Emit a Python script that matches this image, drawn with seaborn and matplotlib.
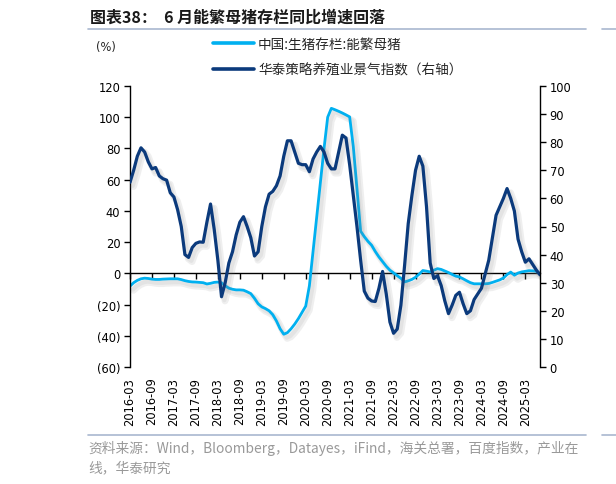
import numpy as np
import pandas as pd
import seaborn as sns
import matplotlib.pyplot as plt
from matplotlib import patheffects as pe
from matplotlib.lines import Line2D
from matplotlib.ticker import FuncFormatter, MultipleLocator

# monthly categories, 2016-03 onwards
months = pd.period_range('2016-03', periods=113, freq='M').strftime('%Y-%m').tolist()

# 中国:生猪存栏:能繁母猪 同比 (%), left axis
sow_yoy = [
    -8.2, -6.0, -4.5, -3.5, -3.1, -3.3, -3.7, -3.9, -3.9, -3.7,
    -3.6, -3.5, -3.5, -3.5, -4.0, -4.7, -5.2, -5.5, -5.6, -5.8,
    -6.0, -6.8, -6.4, -5.8, -5.6, -6.0, -8.0, -9.5, -10.2, -10.6,
    -10.6, -10.8, -11.8, -13.0, -16.0, -19.5, -21.5, -22.6, -24.0, -26.5,
    -30.5, -35.5, -39.0, -38.0, -35.5, -32.5, -29.0, -25.0, -21.0, -8.0,
    14.0, 36.0, 58.0, 80.0, 100.0, 105.7, 104.8, 103.8, 102.7, 101.5,
    100.2, 81.0, 54.0, 27.0, 23.5, 20.5, 18.0, 14.0, 10.5, 7.5,
    4.5, 2.0, 0.3, -1.5, -3.2, -5.5, -4.8, -3.9, -2.5, -0.5,
    1.8, 1.4, 0.9, 2.0, 3.0, 2.5, 1.5, 0.5, -0.7, -1.8,
    -2.3, -3.5, -4.8, -6.0, -6.7, -6.7, -6.7, -6.7, -6.5, -5.8,
    -5.0, -4.2, -3.0, -0.8, 0.8, -1.2, 0.2, 0.9, 1.3, 1.7,
    1.6, 1.3, -0.3,
]

# 华泰策略养殖业景气指数, right axis
prosperity = [
    65.7, 70.0, 75.0, 78.0, 76.5, 73.0, 70.5, 71.0, 68.0, 67.0,
    66.5, 62.0, 60.5, 56.0, 50.0, 40.0, 39.0, 42.5, 44.0, 44.5,
    44.4, 51.5, 58.0, 49.0, 38.0, 25.0, 30.0, 37.0, 41.0, 47.0,
    51.5, 53.5, 50.0, 46.0, 39.5, 41.0, 50.0, 57.0, 61.5, 62.5,
    64.5, 68.0, 75.0, 80.5, 80.5, 76.5, 72.5, 72.0, 72.0, 69.5,
    74.0, 76.5, 78.5, 76.5, 72.5, 70.5, 70.5, 76.5, 82.5, 81.5,
    72.0, 61.0, 50.0, 38.0, 27.0, 24.5, 23.5, 23.3, 28.0, 34.0,
    26.0, 16.0, 12.0, 13.5, 22.0, 36.0, 51.0, 61.0, 70.0, 75.0,
    71.5, 57.0, 37.0, 31.5, 32.5, 29.0, 23.5, 19.0, 22.0, 25.5,
    26.6, 22.5, 19.0, 20.0, 24.0, 26.0, 28.0, 33.0, 38.0, 46.0,
    54.0, 57.0, 60.0, 63.5, 60.0, 55.5, 45.5, 41.0, 37.3, 38.5,
    36.5, 34.5, 32.8,
]

series_names = ['中国:生猪存栏:能繁母猪', '华泰策略养殖业景气指数（右轴）']

LIGHT = '#00b0f0'
DARK = '#0b3a7c'
CJK = ['Noto Sans CJK SC', 'DejaVu Sans']

sns.set_theme(style='ticks')
plt.rcParams['font.family'] = ['DejaVu Sans', 'Noto Sans CJK SC']

df = pd.DataFrame({'idx': np.arange(len(months)), 'sow': sow_yoy, 'idxval': prosperity})

W, H = 616, 485
fig = plt.figure(figsize=(W / 100, H / 100), dpi=100)
ax = fig.add_axes([130 / W, 1 - 368 / H, 410 / W, 281 / H])

# soft drop shadow like the Excel original
shadow = [pe.SimpleLineShadow(offset=(2.5, -3), shadow_color='0.5', alpha=0.12, linewidth=5),
          pe.SimpleLineShadow(offset=(2, -2.5), shadow_color='0.5', alpha=0.1, linewidth=3),
          pe.Normal()]

sns.lineplot(data=df, x='idx', y='sow', ax=ax, color=LIGHT, linewidth=2.0, legend=False)
ax.lines[0].set_path_effects(shadow)
ax2 = ax.twinx()
sns.lineplot(data=df, x='idx', y='idxval', ax=ax2, color=DARK, linewidth=2.3, legend=False)
ax2.lines[0].set_path_effects(shadow)

ax.set_xlim(0, len(months) - 1)
ax.set_ylim(-60, 120)
ax2.set_ylim(0, 100)
ax.yaxis.set_major_locator(MultipleLocator(20))
ax2.yaxis.set_major_locator(MultipleLocator(10))
ax.yaxis.set_major_formatter(FuncFormatter(lambda v, p: f'({abs(int(v))})' if v < 0 else f'{int(v)}'))
ax.set_xlabel('')
ax.set_ylabel('')
ax2.set_ylabel('')

tick_pos = list(range(0, len(months), 6))
ax.set_xticks(tick_pos)
ax.set_xticklabels([months[i] for i in tick_pos], rotation=90)
ax.tick_params(axis='x', length=0, pad=7, labelsize=8.3, colors='black')
ax.tick_params(axis='y', direction='out', length=4, width=1, pad=3, labelsize=8.3, colors='black')
ax2.tick_params(axis='y', direction='out', length=4, width=1, pad=3, labelsize=8.3, colors='black')

for s in ['top', 'right', 'bottom']:
    ax.spines[s].set_visible(False)
for s in ['top', 'left', 'bottom']:
    ax2.spines[s].set_visible(False)
ax.spines['left'].set_color('black')
ax2.spines['right'].set_color('black')
ax.spines['left'].set_linewidth(1)
ax2.spines['right'].set_linewidth(1)

# category axis sits on the zero line of the left axis
zero_axis = ax.secondary_xaxis(60 / 180)
zero_axis.set_xticks(tick_pos)
zero_axis.tick_params(axis='x', direction='out', length=4, width=1, labelbottom=False, color='black')
zero_axis.spines['bottom'].set_color('black')
zero_axis.spines['bottom'].set_linewidth(1)

# legend
handles = [Line2D([], [], color=LIGHT, lw=2.6), Line2D([], [], color=DARK, lw=2.6)]
fig.legend(handles, series_names, loc='upper left', bbox_to_anchor=(213 / W, 1 - 38 / H),
           frameon=False, handlelength=3.0, handletextpad=0.3, labelspacing=0.85,
           borderpad=0, borderaxespad=0, prop={'family': CJK, 'size': 9.8})

fig.text(106 / W, 1 - 47 / H, '(%)', fontsize=8.3, ha='center', va='center')

# title, rules and source
fig.text(90 / W, 1 - 18 / H, '图表38：  6 月能繁母猪存栏同比增速回落', fontsize=11.5,
         fontweight='bold', family=CJK, va='center', color='#1a1a1a')
rule = '#a9b8cf'
fig.add_artist(Line2D([88 / W, 586 / W], [1 - 29.5 / H] * 2, color=rule, lw=1.2))
fig.add_artist(Line2D([88 / W, 586 / W], [1 - 436 / H] * 2, color=rule, lw=1.2))
fig.text(88 / W, 1 - 448 / H, '资料来源：Wind，Bloomberg，Datayes，iFind，海关总署，百度指数，产业在',
         fontsize=9.9, family=CJK, color='#999999', va='center')
fig.text(88 / W, 1 - 468 / H, '线，华泰研究', fontsize=9.9, family=CJK, color='#999999', va='center')

# rules of the neighbouring exhibit at the right edge
fig.add_artist(Line2D([602 / W, 1.0], [1 - 29.5 / H] * 2, color=rule, lw=1.2))
fig.add_artist(Line2D([602 / W, 1.0], [1 - 436 / H] * 2, color=rule, lw=1.2))

fig.savefig('out.png', dpi=100, facecolor='white')
